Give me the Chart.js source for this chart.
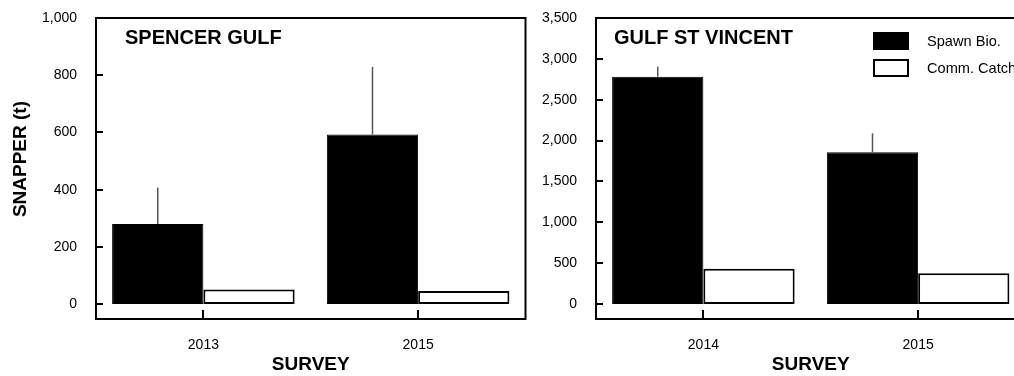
<!DOCTYPE html>
<html>
<head>
<meta charset="utf-8">
<script src="https://cdn.jsdelivr.net/npm/chart.js@4/dist/chart.umd.min.js"></script>
<style>
  html, body { margin: 0; padding: 0; overflow: hidden; background: #fff; width: 1014px; height: 376px; }
  canvas { position: absolute; top: 0; }
  #sg { left: 0; }
  #gsv { left: 535px; }
</style>
</head>
<body>
<canvas id="sg" width="535" height="376"></canvas>
<canvas id="gsv" width="505" height="376"></canvas>
<script>
// Snapper spawning biomass (with upper error) and commercial catch, tonnes
const seriesNames = ['Spawn Bio.', 'Comm. Catch'];

const sgYears = ['2013', '2015'];
const sgSpawn = [280, 593];
const sgSpawnErr = [127, 236];
const sgCatch = [51, 46];
const sgTicks = [0, 200, 400, 600, 800, 1000];

const gsvYears = ['2014', '2015'];
const gsvSpawn = [2782, 1857];
const gsvSpawnErr = [123, 232];
const gsvCatch = [432, 376];
const gsvTicks = [0, 500, 1000, 1500, 2000, 2500, 3000, 3500];

Chart.defaults.font.family = "'Liberation Sans', Arial, Helvetica, sans-serif";
Chart.defaults.color = '#000';

const FONT = "'Liberation Sans', Arial, Helvetica, sans-serif";

// Frame, inward ticks, error bars, panel title, y title and legend
const panelPlugin = {
  id: 'panel',
  afterDatasetsDraw(chart, args, opts) {
    const ctx = chart.ctx;
    const a = chart.chartArea;
    const x = chart.scales.x;
    const y = chart.scales.y;
    ctx.save();

    // error bars on the spawning biomass bars
    const meta = chart.getDatasetMeta(0);
    ctx.strokeStyle = '#555';
    ctx.lineWidth = 1.5;
    meta.data.forEach((el, i) => {
      const top = y.getPixelForValue(opts.values[i] + opts.errors[i]);
      ctx.beginPath();
      ctx.moveTo(el.x, el.y);
      ctx.lineTo(el.x, top);
      ctx.stroke();
    });

    // frame
    ctx.strokeStyle = '#000';
    ctx.lineWidth = 2;
    ctx.strokeRect(a.left, a.top, a.right - a.left, a.bottom - a.top);

    // inward ticks
    y.ticks.forEach(t => {
      const py = Math.round(y.getPixelForValue(t.value));
      ctx.beginPath();
      ctx.moveTo(a.left, py);
      ctx.lineTo(a.left + 7, py);
      ctx.stroke();
    });
    x.ticks.forEach((t, i) => {
      const px = Math.round(x.getPixelForTick(i));
      ctx.beginPath();
      ctx.moveTo(px, a.bottom);
      ctx.lineTo(px, a.bottom - 9);
      ctx.stroke();
    });

    // panel title
    ctx.fillStyle = '#000';
    ctx.font = 'bold 20px ' + FONT;
    ctx.textBaseline = 'middle';
    ctx.textAlign = 'left';
    ctx.fillText(opts.title, a.left + opts.titleOffset, a.top + 20);

    // vertical axis title
    if (opts.yTitle) {
      const cy = (y.getPixelForValue(0) + y.getPixelForValue(y.max)) / 2 - 2;
      ctx.save();
      ctx.translate(21, cy);
      ctx.rotate(-Math.PI / 2);
      ctx.textAlign = 'center';
      ctx.font = 'bold 19px ' + FONT;
      ctx.fillText(opts.yTitle, 0, 0);
      ctx.restore();
    }

    // legend
    if (opts.legend) {
      const bx = a.right - 152.5;
      chart.data.datasets.forEach((ds, i) => {
        const by = a.top + 14 + i * 27;
        ctx.fillStyle = ds.backgroundColor;
        ctx.fillRect(bx, by, 36, 18);
        ctx.strokeStyle = '#000';
        ctx.lineWidth = 2;
        ctx.strokeRect(bx + 1, by + 1, 34, 16);
        ctx.fillStyle = '#000';
        ctx.font = '14.6px ' + FONT;
        ctx.textAlign = 'left';
        ctx.textBaseline = 'middle';
        ctx.fillText(ds.label, bx + 54, by + 9.5);
      });
    }
    ctx.restore();
  }
};

function makePanel(canvasId, years, spawn, errs, catchVals, ticks, yMin, yMax, axisWidth, rightPad, extra) {
  return new Chart(document.getElementById(canvasId), {
    type: 'bar',
    data: {
      labels: years,
      datasets: [
        { label: seriesNames[0], data: spawn, backgroundColor: '#000', borderColor: '#000', borderWidth: 1, borderSkipped: false },
        { label: seriesNames[1], data: catchVals, backgroundColor: '#fff', borderColor: '#000', borderWidth: 2, borderSkipped: false }
      ]
    },
    options: {
      responsive: false,
      animation: false,
      devicePixelRatio: 1,
      layout: { padding: { left: 0, top: 18, right: rightPad, bottom: 0 } },
      datasets: { bar: { categoryPercentage: 0.85, barPercentage: 1.0 } },
      plugins: {
        legend: { display: false },
        tooltip: { enabled: false },
        panel: Object.assign({ values: spawn, errors: errs }, extra)
      },
      scales: {
        x: {
          grid: { display: false, drawTicks: false },
          border: { display: false },
          ticks: { font: { size: 14 }, padding: 18, color: '#000' },
          title: { display: true, text: 'SURVEY', font: { size: 19, weight: 'bold' }, padding: 0, color: '#000' },
          afterFit(s) { s.height = 57; s.paddingLeft = 0; s.paddingRight = 0; }
        },
        y: {
          min: yMin,
          max: yMax,
          grid: { display: false, drawTicks: false },
          border: { display: false },
          afterBuildTicks(s) { s.ticks = ticks.map(v => ({ value: v })); },
          ticks: {
            font: { size: 14 },
            padding: 19,
            color: '#000',
            callback: v => Number(v).toLocaleString('en-US')
          },
          afterFit(s) { s.width = axisWidth; s.paddingTop = 0; s.paddingBottom = 0; }
        }
      }
    },
    plugins: [panelPlugin]
  });
}

makePanel('sg', sgYears, sgSpawn, sgSpawnErr, sgCatch, sgTicks, -52, 1000, 96, 9.5,
  { title: 'SPENCER GULF', titleOffset: 29, yTitle: 'SNAPPER (t)', legend: false });

makePanel('gsv', gsvYears, gsvSpawn, gsvSpawnErr, gsvCatch, gsvTicks, -184, 3500, 61, 14.5,
  { title: 'GULF ST VINCENT', titleOffset: 18, yTitle: null, legend: true });
</script>
</body>
</html>
